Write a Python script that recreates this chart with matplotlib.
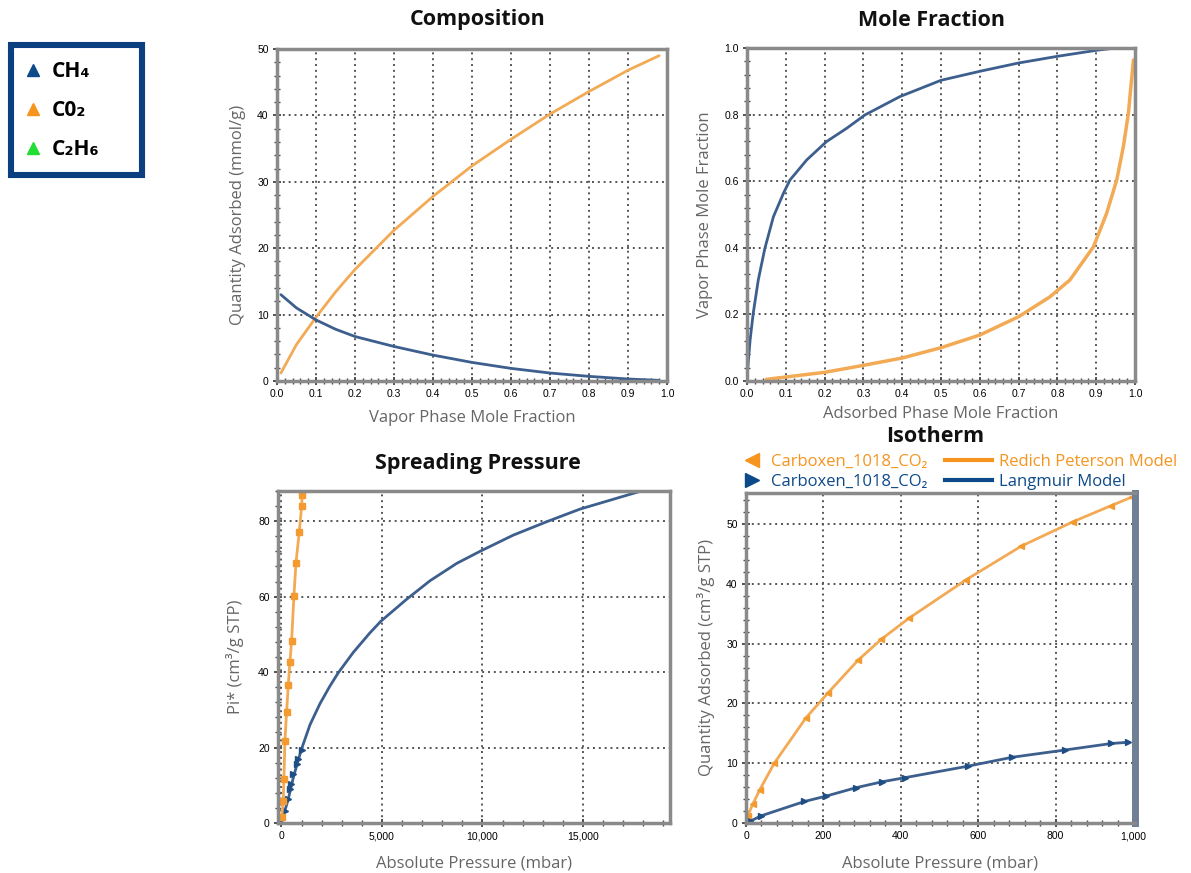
import matplotlib
matplotlib.use("Agg")
import matplotlib.pyplot as plt
from matplotlib.lines import Line2D
from matplotlib.patches import Rectangle
from matplotlib.ticker import MultipleLocator, FuncFormatter

plt.rcParams['font.family'] = ['Open Sans', 'DejaVu Sans']

# ---------------- data ----------------
# Composition
comp_x = [0.01, 0.05, 0.1, 0.15, 0.2, 0.3, 0.4, 0.5, 0.6, 0.7, 0.8, 0.9, 0.98]
comp_co2 = [1.2, 5.5, 9.6, 13.4, 16.8, 22.7, 27.8, 32.4, 36.4, 40.2, 43.6, 46.8, 49.0]
comp_ch4 = [13.0, 11.0, 9.2, 7.8, 6.7, 5.2, 3.9, 2.8, 1.9, 1.2, 0.7, 0.3, 0.1]

# Mole fraction
mf_ch4_x = [0.0, 0.008, 0.016, 0.029, 0.046, 0.068, 0.094, 0.111, 0.154, 0.205, 0.257,
            0.304, 0.394, 0.5, 0.6, 0.7, 0.8, 0.9, 0.95]
mf_ch4_y = [0.01, 0.123, 0.203, 0.303, 0.398, 0.493, 0.564, 0.604, 0.664, 0.719, 0.759,
            0.799, 0.854, 0.903, 0.93, 0.955, 0.975, 0.993, 1.0]
mf_co2_x = [0.05, 0.1, 0.2, 0.3, 0.4, 0.5, 0.6, 0.7, 0.781, 0.832, 0.893, 0.927, 0.953,
            0.970, 0.983, 0.991, 0.996]
mf_co2_y = [0.005, 0.012, 0.026, 0.047, 0.069, 0.10, 0.138, 0.193, 0.253, 0.303, 0.403,
            0.504, 0.604, 0.704, 0.804, 0.904, 0.964]

# Spreading pressure
sp_co2_p = [10, 90, 124, 174, 257, 340, 423, 506, 622, 721, 887, 1005, 1035]
sp_co2_pi = [1.5, 5.9, 11.6, 21.8, 29.3, 36.5, 42.7, 48.2, 60.1, 68.8, 77.1, 83.9, 87.0]
sp_ch4_mp = [174, 340, 420, 455, 590, 756, 840, 1000]
sp_ch4_mpi = [3.3, 6.3, 9.0, 10.3, 13.0, 15.6, 16.9, 19.4]
sp_ch4_p = [0, 174, 340, 590, 800, 1000, 1418, 1915, 2413, 2826, 3572, 4403, 4950, 6229,
            7388, 8716, 9876, 11532, 13194, 14851, 17836, 19400]
sp_ch4_pi = [0, 3.3, 6.3, 12.0, 16.0, 19.6, 26.0, 31.6, 36.3, 39.8, 45.2, 50.4, 53.5, 59.3,
             64.2, 68.8, 72.0, 76.3, 79.85, 83.2, 87.9, 89.7]

# Isotherm
iso_co2_p = [4, 17, 36, 73, 155, 211, 289, 349, 422, 569, 711, 845, 944, 996]
iso_co2_q = [1.1, 3.1, 5.6, 10.0, 17.6, 21.7, 27.2, 30.7, 34.3, 40.7, 46.3, 50.4, 53.1, 54.5]
iso_ch4_p = [11, 39, 151, 207, 284, 352, 412, 573, 688, 823, 944, 987]
iso_ch4_q = [0.3, 1.2, 3.6, 4.5, 5.9, 6.9, 7.6, 9.5, 11.0, 12.2, 13.3, 13.5]

# legends
iso_marker_labels = ['Carboxen_1018_CO₂', 'Carboxen_1018_CO₂']
iso_model_labels = ['Redich Peterson Model', 'Langmuir Model']
comp_labels = ['CH₄', 'C0₂', 'C₂H₆']

# ---------------- style ----------------
ORANGE = '#f3aa55'
BLUE = '#3d5f8e'
LEG_OR = '#f7941d'
LEG_BL = '#0d4a8a'
GRIDC = '#555555'
W, H = 1191, 873

fig = plt.figure(figsize=(W / 100, H / 100), dpi=100)


def rect(l, t, r, b):
    return [l / W, 1 - b / H, (r - l) / W, (b - t) / H]


def style(ax, xmaj, xmin, ymaj, ymin, fmt=None):
    ax.xaxis.set_major_locator(MultipleLocator(xmaj))
    ax.xaxis.set_minor_locator(MultipleLocator(xmin))
    ax.yaxis.set_major_locator(MultipleLocator(ymaj))
    ax.yaxis.set_minor_locator(MultipleLocator(ymin))
    ax.grid(True, which='major', color=GRIDC, linestyle=(0, (1, 2)), linewidth=1.4)
    for s in ax.spines.values():
        s.set_color('#8a8a8a')
        s.set_linewidth(2.5)
    ax.tick_params(which='major', direction='inout', length=6, width=1.2, color='#333333',
                   labelsize=7.5, pad=3)
    ax.tick_params(which='minor', direction='inout', length=4, width=1.0, color='#444444')
    ax.tick_params(top=False, right=False, which='both')
    for lab in ax.get_xticklabels() + ax.get_yticklabels():
        lab.set_family(['Liberation Sans', 'DejaVu Sans'])
    if fmt:
        ax.xaxis.set_major_formatter(fmt)


lab_kw = dict(fontsize=12, color='#666666')
title_kw = dict(fontsize=15.5, fontweight='bold', color='#111111')
line_kw = dict(solid_joinstyle='round', solid_capstyle='round')


def title_at(x, y, s):
    fig.text(x / W, 1 - y / H, s, ha='center', va='center', **title_kw)


# Composition
ax1 = fig.add_axes(rect(277, 49, 667, 381))
ax1.plot(comp_x, comp_co2, color=ORANGE, lw=2, **line_kw)
ax1.plot(comp_x, comp_ch4, color=BLUE, lw=2, **line_kw)
ax1.set_xlim(0, 1.0)
ax1.set_ylim(0, 50)
style(ax1, 0.1, 0.02, 10, 2)
ax1.xaxis.set_major_formatter(FuncFormatter(lambda v, p: f"{v:.1f}"))
ax1.set_xlabel('Vapor Phase Mole Fraction', labelpad=8, **lab_kw)
ax1.set_ylabel('Quantity Adsorbed (mmol/g)', labelpad=8, **lab_kw)
title_at(478, 20, 'Composition')

# Mole fraction
ax2 = fig.add_axes(rect(747, 48, 1135, 381))
ax2.plot(mf_ch4_x, mf_ch4_y, color=BLUE, lw=2, **line_kw)
ax2.plot(mf_co2_x, mf_co2_y, color=ORANGE, lw=2.5, clip_on=False, **line_kw)
ax2.set_xlim(0, 1.0)
ax2.set_ylim(0, 1.0)
style(ax2, 0.1, 0.02, 0.2, 0.04)
ax2.xaxis.set_major_formatter(FuncFormatter(lambda v, p: f"{v:.1f}"))
ax2.yaxis.set_major_formatter(FuncFormatter(lambda v, p: f"{v:.1f}"))
ax2.set_xlabel('Adsorbed Phase Mole Fraction', labelpad=5, **lab_kw)
ax2.set_ylabel('Vapor Phase Mole Fraction', labelpad=8, **lab_kw)
title_at(932, 20, 'Mole Fraction')

comma = FuncFormatter(lambda v, p: f"{v:,.0f}")

# Spreading pressure
ax3 = fig.add_axes(rect(278, 491, 670, 823))
ax3.plot(sp_ch4_p, sp_ch4_pi, color=BLUE, lw=2, **line_kw)
ax3.plot(sp_ch4_mp, sp_ch4_mpi, linestyle='', marker='>', color='#1f4e85', ms=5)
ax3.plot(sp_co2_p, sp_co2_pi, color=ORANGE, lw=2, marker='s', ms=4,
         markerfacecolor='#f39a30', markeredgecolor='#f39a30', clip_on=False, **line_kw)
ax3.set_xlim(-170, 19330)
ax3.set_ylim(0, 88)
style(ax3, 5000, 1000, 20, 4, comma)
ax3.set_xlabel('Absolute Pressure (mbar)', labelpad=10, **lab_kw)
ax3.set_ylabel('Pi* (cm³/g STP)', labelpad=10, **lab_kw)
title_at(478, 464, 'Spreading Pressure')

# Isotherm
ax4 = fig.add_axes(rect(746, 493, 1135, 823))
ax4.plot(iso_co2_p, iso_co2_q, color=ORANGE, lw=2, marker='<', ms=5,
         markerfacecolor='#f39a30', markeredgecolor='#f39a30', clip_on=False, **line_kw)
ax4.plot(iso_ch4_p, iso_ch4_q, color=BLUE, lw=2, marker='>', ms=5,
         markerfacecolor='#1f4e85', markeredgecolor='#1f4e85', clip_on=False, **line_kw)
ax4.set_xlim(0, 1005)
ax4.set_ylim(0, 55.2)
style(ax4, 200, 40, 10, 2, comma)
ax4.spines['right'].set_linewidth(5)
ax4.spines['right'].set_color('#6f7f95')
ax4.set_xlabel('Absolute Pressure (mbar)', labelpad=10, **lab_kw)
ax4.set_ylabel('Quantity Adsorbed (cm³/g STP)', labelpad=8, **lab_kw)
title_at(935, 436, 'Isotherm')

leg_common = dict(loc='upper left', frameon=False, fontsize=12, labelcolor='linecolor',
                  labelspacing=0.24, borderpad=0, borderaxespad=0)
mk_handles = [Line2D([], [], color=LEG_OR, marker='<', ls='', ms=10),
              Line2D([], [], color=LEG_BL, marker='>', ls='', ms=10)]
ln_handles = [Line2D([], [], color=LEG_OR, lw=3),
              Line2D([], [], color=LEG_BL, lw=3)]
fig.legend(mk_handles, iso_marker_labels, bbox_to_anchor=(744 / W, 1 - 454 / H),
           handlelength=1.0, handletextpad=0.6, **leg_common)
fig.legend(ln_handles, iso_model_labels, bbox_to_anchor=(945 / W, 1 - 454 / H),
           handlelength=2.8, handletextpad=0.45, **leg_common)

# Top-left component legend
fig.patches.append(Rectangle((11 / W, 1 - 175 / H), 131 / W, 130 / H,
                             transform=fig.transFigure, fill=False,
                             edgecolor='#0b3f80', linewidth=4.4))
comp_handles = [Line2D([], [], color='#0d4a8a', marker='^', ls='', ms=9),
                Line2D([], [], color='#f7941d', marker='^', ls='', ms=9),
                Line2D([], [], color='#22dd33', marker='^', ls='', ms=9)]
leg = fig.legend(comp_handles, comp_labels, loc='upper left',
                 bbox_to_anchor=(23 / W, 1 - 61 / H), frameon=False, fontsize=15,
                 borderpad=0, labelspacing=0.87, handlelength=1.0, handletextpad=0.4,
                 borderaxespad=0)
for t in leg.get_texts():
    t.set_fontweight('bold')

fig.savefig('out.png', dpi=100, facecolor='white')
